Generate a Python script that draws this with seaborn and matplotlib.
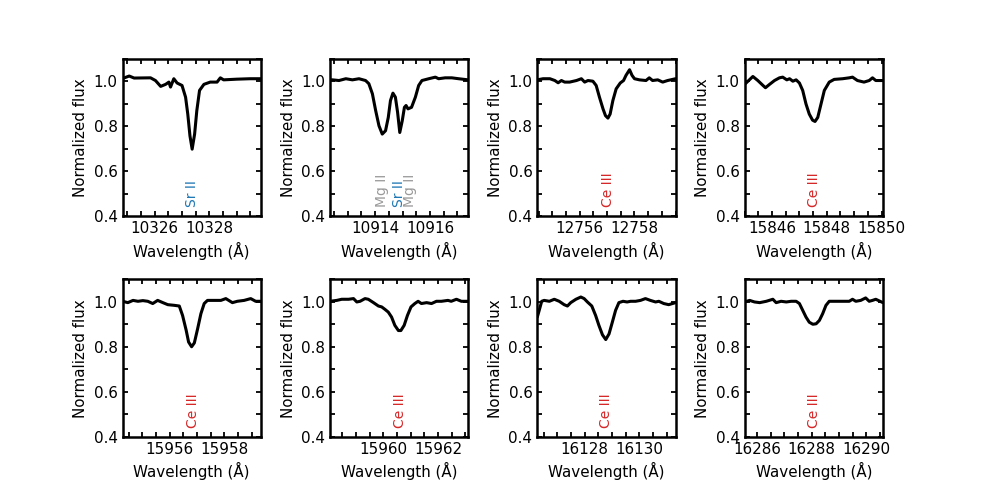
import numpy as np
import pandas as pd
import matplotlib
matplotlib.use("Agg")
import matplotlib.pyplot as plt
from matplotlib.ticker import MultipleLocator
import seaborn as sns

# ---------------- data ----------------
xlims = [(10324.83, 10329.88), (10912.35, 10917.40), (12754.45, 12759.50), (15845.00, 15850.05),
         (15954.28, 15959.33), (15958.05, 15963.10), (16126.27, 16131.32), (16285.55, 16290.60)]

wl_1 = [10324.81, 10325.07, 10325.25, 10325.85, 10326.03, 10326.22, 10326.40, 10326.52, 10326.58,
        10326.70, 10326.82, 10327.00, 10327.13, 10327.21, 10327.29, 10327.37, 10327.46, 10327.54,
        10327.64, 10327.80, 10328.03, 10328.28, 10328.40, 10328.52, 10329.00, 10329.49, 10329.88]
fx_1 = [1.012, 1.024, 1.015, 1.016, 1.004, 0.978, 0.987, 0.997, 0.975, 1.012, 0.993, 0.982, 0.930,
        0.855, 0.758, 0.699, 0.766, 0.870, 0.960, 0.987, 0.997, 0.997, 1.016, 1.007, 1.010, 1.012, 1.012]

wl_2 = [10912.35, 10912.44, 10912.68, 10912.93, 10913.17, 10913.41, 10913.65, 10913.77, 10913.90,
        10914.02, 10914.14, 10914.26, 10914.38, 10914.48, 10914.56, 10914.65, 10914.74, 10914.82,
        10914.90, 10914.99, 10915.07, 10915.13, 10915.20, 10915.33, 10915.47, 10915.59, 10915.71,
        10915.96, 10916.20, 10916.32, 10916.56, 10916.80, 10917.05, 10917.40]
fx_2 = [1.007, 1.007, 1.004, 1.012, 1.007, 1.012, 1.004, 0.990, 0.945, 0.870, 0.803, 0.766, 0.781,
        0.840, 0.915, 0.948, 0.930, 0.863, 0.773, 0.825, 0.885, 0.893, 0.878, 0.885, 0.930, 0.982,
        1.004, 1.012, 1.019, 1.012, 1.016, 1.016, 1.012, 1.007]

wl_3 = [12754.45, 12754.66, 12754.91, 12755.09, 12755.21, 12755.33, 12755.45, 12755.63, 12755.88,
        12756.06, 12756.18, 12756.30, 12756.48, 12756.60, 12756.72, 12756.85, 12756.94, 12757.03,
        12757.11, 12757.21, 12757.33, 12757.48, 12757.60, 12757.69, 12757.82, 12757.91, 12758.00,
        12758.18, 12758.42, 12758.54, 12758.66, 12758.85, 12759.03, 12759.21, 12759.50]
fx_3 = [1.007, 1.012, 1.012, 1.004, 0.994, 1.004, 0.997, 0.997, 1.004, 1.012, 0.997, 1.004, 1.001,
        0.982, 0.930, 0.878, 0.848, 0.837, 0.855, 0.915, 0.967, 0.993, 1.004, 1.027, 1.052, 1.027,
        1.012, 1.007, 1.004, 1.016, 1.004, 1.007, 0.997, 1.004, 1.012]

wl_4 = [15845.00, 15845.12, 15845.30, 15845.48, 15845.67, 15845.76, 15845.91, 15846.09, 15846.27,
        15846.39, 15846.54, 15846.64, 15846.76, 15846.88, 15847.00, 15847.12, 15847.24, 15847.36,
        15847.48, 15847.57, 15847.67, 15847.79, 15847.91, 15848.09, 15848.27, 15848.58, 15848.82,
        15848.94, 15849.12, 15849.36, 15849.55, 15849.67, 15849.79, 15850.05]
fx_4 = [0.987, 1.001, 1.022, 1.004, 0.982, 0.972, 0.987, 1.004, 1.016, 1.019, 1.007, 1.012, 1.001,
        1.007, 0.993, 0.960, 0.900, 0.855, 0.828, 0.822, 0.840, 0.900, 0.960, 0.997, 1.009, 1.012,
        1.016, 1.019, 1.004, 0.997, 1.004, 1.016, 1.004, 1.004]

wl_5 = [15954.28, 15954.47, 15954.66, 15954.84, 15955.02, 15955.20, 15955.38, 15955.56, 15955.75,
        15955.93, 15956.17, 15956.35, 15956.47, 15956.60, 15956.69, 15956.80, 15956.90, 15957.02,
        15957.14, 15957.26, 15957.38, 15957.63, 15957.87, 15958.05, 15958.29, 15958.47, 15958.72,
        15958.96, 15959.14, 15959.33]
fx_5 = [1.003, 0.997, 1.007, 1.003, 1.006, 1.003, 0.993, 1.007, 0.997, 0.988, 0.985, 0.982, 0.940,
        0.875, 0.822, 0.801, 0.818, 0.881, 0.948, 0.993, 1.007, 1.007, 1.007, 1.015, 0.997, 1.003,
        1.007, 1.015, 1.003, 1.003]

wl_6 = [15958.05, 15958.30, 15958.48, 15958.73, 15958.91, 15959.03, 15959.15, 15959.33, 15959.45,
        15959.64, 15959.82, 15959.94, 15960.06, 15960.18, 15960.30, 15960.42, 15960.55, 15960.64,
        15960.76, 15960.88, 15961.01, 15961.15, 15961.27, 15961.39, 15961.58, 15961.76, 15961.94,
        15962.12, 15962.36, 15962.48, 15962.67, 15962.85, 15963.10]
fx_6 = [1.003, 1.007, 1.012, 1.012, 1.015, 1.000, 1.003, 1.015, 1.012, 0.997, 0.982, 0.978, 0.967,
        0.955, 0.933, 0.896, 0.873, 0.873, 0.896, 0.940, 0.978, 0.993, 1.003, 0.993, 0.997, 0.993,
        1.003, 1.003, 1.007, 1.003, 1.012, 1.003, 1.003]

wl_7 = [16126.27, 16126.34, 16126.43, 16126.52, 16126.71, 16126.89, 16127.07, 16127.25, 16127.37,
        16127.49, 16127.68, 16127.86, 16127.98, 16128.10, 16128.26, 16128.40, 16128.52, 16128.65,
        16128.77, 16128.89, 16129.01, 16129.13, 16129.25, 16129.40, 16129.55, 16129.68, 16129.86,
        16130.04, 16130.22, 16130.40, 16130.59, 16130.71, 16130.89, 16131.07, 16131.32]
fx_7 = [0.933, 0.963, 1.003, 1.007, 1.003, 1.012, 1.003, 0.988, 0.982, 0.997, 1.012, 1.022, 1.015,
        1.000, 0.982, 0.940, 0.896, 0.854, 0.833, 0.858, 0.910, 0.963, 0.997, 1.003, 1.000, 1.003,
        1.003, 1.007, 1.015, 1.007, 1.000, 1.003, 0.993, 0.988, 0.997]

wl_8 = [16285.55, 16285.73, 16285.91, 16286.10, 16286.34, 16286.58, 16286.70, 16286.88, 16287.07,
        16287.25, 16287.43, 16287.55, 16287.67, 16287.79, 16287.91, 16288.04, 16288.16, 16288.28,
        16288.40, 16288.52, 16288.64, 16288.88, 16289.13, 16289.37, 16289.49, 16289.61, 16289.79,
        16289.97, 16290.10, 16290.22, 16290.34, 16290.60]
fx_8 = [1.000, 1.007, 1.000, 0.997, 1.003, 1.012, 0.997, 1.003, 1.000, 1.003, 1.003, 0.993, 0.963,
        0.933, 0.910, 0.901, 0.903, 0.918, 0.948, 0.985, 1.003, 1.003, 1.003, 1.003, 1.012, 1.003,
        1.007, 1.018, 1.003, 1.007, 1.012, 0.997]

wavelengths = [wl_1, wl_2, wl_3, wl_4, wl_5, wl_6, wl_7, wl_8]
fluxes = [fx_1, fx_2, fx_3, fx_4, fx_5, fx_6, fx_7, fx_8]

# line identifications: (panel, wavelength, label)
line_panel = [0, 1, 1, 1, 2, 3, 4, 5, 6, 7]
line_wl = [10327.37, 10914.26, 10914.88, 10915.28, 12757.02, 15847.53, 15956.85, 15960.61, 16128.79, 16288.10]
line_name = ["Sr II", "Mg II", "Sr II", "Mg II", "Ce III", "Ce III", "Ce III", "Ce III", "Ce III", "Ce III"]
name_colors = {"Sr II": "#1f77b4", "Mg II": "#999999", "Ce III": "#d62728"}

# ---------------- plotting ----------------
sns.set_theme(style="white")
plt.rcParams["font.family"] = ["DejaVu Sans"]
plt.rcParams["axes.edgecolor"] = "black"
plt.rcParams["axes.linewidth"] = 1.8

fig, axes = plt.subplots(2, 4, figsize=(9.81, 4.91), dpi=100)
plt.subplots_adjust(left=0.125, right=0.9, bottom=0.11, top=0.88, wspace=0.5, hspace=0.4)

for i, ax in enumerate(axes.flat):
    df = pd.DataFrame({"wl": wavelengths[i], "flux": fluxes[i]})
    sns.lineplot(data=df, x="wl", y="flux", ax=ax, color="black", lw=2.2,
                 estimator=None, sort=False)
    ax.set_xlim(*xlims[i])
    ax.set_ylim(0.4, 1.1)
    ax.xaxis.set_major_locator(MultipleLocator(2))
    ax.xaxis.set_minor_locator(MultipleLocator(0.5))
    ax.yaxis.set_major_locator(MultipleLocator(0.2))
    ax.yaxis.set_minor_locator(MultipleLocator(0.1))
    ax.ticklabel_format(useOffset=False, style="plain", axis="x")
    ax.tick_params(which="both", direction="in", top=True, right=True, bottom=True, left=True,
                   length=3.5, width=1.3, colors="black", labelsize=10.9)
    ax.set_xlabel("Wavelength (Å)", fontsize=10.9, color="black")
    ax.set_ylabel("Normalized flux", fontsize=10.9, color="black")
    for sp in ax.spines.values():
        sp.set_linewidth(1.8)
        sp.set_color("black")

for p, w, name in zip(line_panel, line_wl, line_name):
    axes.flat[p].text(w, 0.44, name, rotation=90, ha="center", va="bottom",
                      fontsize=10, color=name_colors[name])

fig.savefig("out.png", dpi=100)
